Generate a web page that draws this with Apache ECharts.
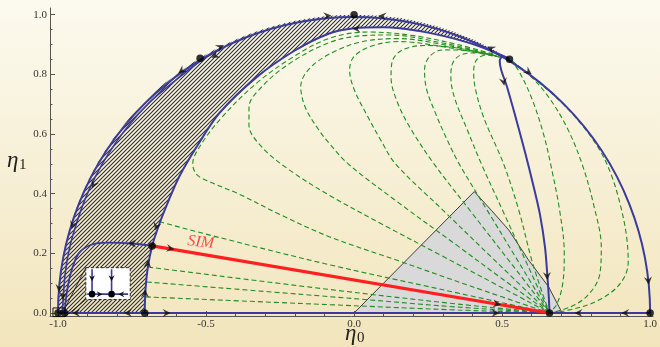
<!DOCTYPE html>
<html><head><meta charset="utf-8">
<script src="https://cdn.jsdelivr.net/npm/echarts@6/dist/echarts.min.js"></script>
<style>html,body{margin:0;padding:0;width:660px;height:347px;overflow:hidden}#c{width:660px;height:347px}</style>
</head><body><div id="c"></div>
<script>
// ---------- tick values ----------
const xMajorTicks = [-1.0, -0.5, 0.0, 0.5, 1.0];
const xMinorTicks = [-1.0,-0.9,-0.8,-0.7,-0.6,-0.5,-0.4,-0.3,-0.2,-0.1,0.0,0.1,0.2,0.3,0.4,0.5,0.6,0.7,0.8,0.9,1.0];
const yMajorTicks = [0.0, 0.2, 0.4, 0.6, 0.8, 1.0];
const yMinorTicks = [0,0.05,0.1,0.15,0.2,0.25,0.3,0.35,0.4,0.45,0.5,0.55,0.6,0.65,0.7,0.75,0.8,0.85,0.9,0.95,1.0];

// ---------- blue curves ----------
const circleRadius = 1;
const innerBoundary = [[-0.707,0],[-0.705,0.07],[-0.697,0.15],[-0.682,0.225],[-0.657,0.30],[-0.625,0.38],[-0.589,0.46],[-0.53,0.56],[-0.455,0.67],[-0.33,0.79],[-0.2,0.88],[-0.084,0.937],[0,0.955],[0.1,0.958],[0.25,0.94],[0.38,0.908],[0.47,0.876],[0.525,0.852]];
const nearCircleCurve = [[-0.44,0.89],[-0.5,0.857],[-0.565,0.81],[-0.697,0.7],[-0.807,0.568],[-0.893,0.418],[-0.951,0.257],[-0.975,0.138],[-0.985,0]];
const leftLoopCurve = [[-0.682,0.225],[-0.75,0.233],[-0.83,0.236],[-0.89,0.228],[-0.93,0.2],[-0.955,0.14],[-0.97,0.07],[-0.978,0]];
const rightBlueCurve = [[0.525,0.852],[0.5,0.858],[0.492,0.845],[0.497,0.815],[0.516,0.76],[0.548,0.648],[0.578,0.537],[0.605,0.43],[0.628,0.33],[0.645,0.22],[0.653,0.124],[0.658,0.05],[0.66,0]];
const axisFlow = [[-1,0],[1,0]];

// ---------- slow invariant manifold ----------
const simLine = [[-0.682,0.225],[0.66,0]];
const simLabelPos = [-0.518,0.237];

// ---------- green trajectories ----------
const gL1 = [[-0.703,0.054],[-0.084,0.028],[0.35,0.01],[0.66,0]];
const gL2 = [[-0.700,0.104],[-0.084,0.055],[0.35,0.02],[0.66,0]];
const gL3 = [[-0.695,0.154],[-0.084,0.079],[0.35,0.03],[0.66,0]];
const gL4 = [[-0.657,0.306],[-0.455,0.253],[-0.084,0.162],[0.3,0.078],[0.66,0]];
const gV1 = [[0.47,0.868],[0.35,0.9],[0.2,0.93],[0.05,0.942],[-0.08,0.922],[-0.2,0.862],[-0.33,0.77],[-0.45,0.652],[-0.52,0.56],[-0.545,0.5],[-0.53,0.463],[-0.488,0.44],[-0.387,0.398],[-0.25,0.33],[-0.084,0.256],[0.15,0.175],[0.4,0.088],[0.66,0]];
const gV2 = [[0.47,0.866],[0.3,0.905],[0.12,0.932],[0,0.927],[-0.1,0.9],[-0.22,0.835],[-0.31,0.76],[-0.355,0.69],[-0.355,0.63],[-0.31,0.555],[-0.219,0.48],[-0.084,0.395],[0.1,0.295],[0.3,0.19],[0.5,0.085],[0.66,0]];
const gV3 = [[0.47,0.864],[0.3,0.9],[0.15,0.92],[0.03,0.91],[-0.07,0.875],[-0.15,0.82],[-0.18,0.76],[-0.165,0.69],[-0.12,0.615],[-0.084,0.569],[-0.02,0.5],[0.15,0.37],[0.35,0.225],[0.5,0.115],[0.66,0]];
const gV4 = [[0.47,0.862],[0.3,0.893],[0.15,0.91],[0.06,0.895],[0.0,0.86],[-0.015,0.815],[0.0,0.75],[0.04,0.67],[0.09,0.58],[0.14,0.5],[0.3,0.345],[0.48,0.172],[0.66,0]];
const gV5 = [[0.48,0.862],[0.35,0.888],[0.24,0.897],[0.16,0.88],[0.128,0.84],[0.125,0.79],[0.145,0.71],[0.19,0.62],[0.27,0.5],[0.4,0.333],[0.53,0.167],[0.66,0]];
const gV6 = [[0.485,0.86],[0.38,0.88],[0.3,0.882],[0.255,0.86],[0.238,0.815],[0.245,0.75],[0.275,0.67],[0.31,0.59],[0.355,0.5],[0.45,0.344],[0.56,0.164],[0.66,0]];
const gV7 = [[0.49,0.858],[0.41,0.872],[0.36,0.865],[0.332,0.835],[0.327,0.79],[0.34,0.72],[0.38,0.62],[0.43,0.5],[0.51,0.326],[0.585,0.163],[0.66,0]];
const gV8 = [[0.495,0.857],[0.45,0.866],[0.415,0.85],[0.404,0.81],[0.41,0.75],[0.44,0.65],[0.505,0.5],[0.556,0.346],[0.6,0.178],[0.635,0.07],[0.66,0]];
const gR1 = [[0.528,0.848],[0.556,0.812],[0.6,0.72],[0.64,0.6],[0.668,0.48],[0.695,0.34],[0.71,0.2],[0.705,0.1],[0.685,0.03],[0.66,0]];
const gR2 = [[0.532,0.846],[0.6,0.79],[0.66,0.72],[0.72,0.62],[0.77,0.5],[0.81,0.36],[0.835,0.22],[0.83,0.13],[0.79,0.06],[0.73,0.02],[0.66,0]];
const gR3 = [[0.536,0.842],[0.62,0.777],[0.7,0.706],[0.77,0.63],[0.83,0.546],[0.87,0.46],[0.9,0.36],[0.92,0.26],[0.926,0.17],[0.9,0.1],[0.83,0.045],[0.74,0.013],[0.66,0]];
const greenCurves = [gL1,gL2,gL3,gL4,gV1,gV2,gV3,gV4,gV5,gV6,gV7,gV8,gR1,gR2,gR3];

// ---------- regions ----------
const grayWedge = [[0,0],[0.406,0.407],[0.465,0.343],[0.522,0.279],[0.589,0.178],[0.657,0.088],[0.703,0]];

// ---------- fixed points and flow arrows ----------
const fixedPoints = [[-1,0],[-0.978,0],[-0.707,0],[-0.682,0.225],[-0.52,0.854],[0,1],[0.525,0.851],[0.66,0],[1,0]];
const arrowX = [-0.939,-0.764,-0.633,0.478,0.758,0.916,-0.62,0.483,-0.668,-0.697,-0.706,-0.75,-0.996,-0.983,-0.95,-0.88,-0.583,-0.47,-0.452,-0.09,0.095,0.008,0.462,0.589,0.505,0.652,0.994];
const arrowY = [0,0,0,0,0,0,0.216,0.03,0.29,0.165,0.066,0.233,0.083,0.057,0.295,0.43,0.812,0.862,0.892,0.996,0.995,0.953,0.887,0.808,0.775,0.124,0.108];
const arrowAngle = [180,180,0,0,180,180,-9.5,-9.5,-108,85,89,180,-95,-93,-107,-116,-144,-152,27,5,175,180,152,-36,-80,-88,-84];

// ---------- inset ----------
const insetBox = [[-0.906,0.152],[-0.756,0.045]];
const zoomBox = [[-1.017,0.017],[-0.976,-0.012]];

const BLUE = '#3b3b9c', GREEN = '#1f8f1f', RED = '#ff1f1f';
const SERIF = '"Liberation Serif","DejaVu Serif",serif';

function makeHatch(){
  const c = document.createElement('canvas'); c.width = 4; c.height = 4;
  const g = c.getContext('2d'); g.strokeStyle = '#2c2c2c'; g.lineWidth = 1.05;
  g.beginPath();
  g.moveTo(0,4); g.lineTo(4,0);
  g.moveTo(-1,1); g.lineTo(1,-1);
  g.moveTo(3,5); g.lineTo(5,3);
  g.stroke();
  return c;
}
const hatchCanvas = makeHatch();

function chevron(cx, cy, ang, s){
  const a = -ang*Math.PI/180, ca = Math.cos(a), sa = Math.sin(a);
  const pts = [[-s/2,-s/2],[s/2,0],[-s/2,s/2],[-s/2+0.35*s,0]];
  return pts.map(p => [cx + p[0]*ca - p[1]*sa, cy + p[0]*sa + p[1]*ca]);
}

function lineSeries(data, color, width, type, z, smooth){
  return {type:'line', data, showSymbol:false, symbol:'none', smooth, silent:true,
    lineStyle:{color, width, type}, z, animation:false, clip:false};
}

const series = [];
// hatched region between unit circle and inner boundary
series.push({type:'custom', z:1, silent:true, data:[[0,0]], animation:false,
  renderItem(params, api){
    const c0 = api.coord([0,0]);
    const r = api.coord([circleRadius,0])[0]-c0[0];
    const st = api.coord([-circleRadius,0]);
    const en = api.coord(innerBoundary[innerBoundary.length-1]);
    let d = 'M'+st[0]+','+st[1]+' A'+r+','+r+' 0 0 1 '+en[0]+','+en[1];
    for (let i=innerBoundary.length-1;i>=0;i--){ const p = api.coord(innerBoundary[i]); d += ' L'+p[0]+','+p[1]; }
    d += ' Z';
    return {type:'path', shape:{pathData:d}, style:{fill:{image:hatchCanvas, repeat:'repeat'}, stroke:null}};
  }});
// gray wedge
series.push({type:'custom', z:1, silent:true, data:[[0,0]], animation:false,
  renderItem(params, api){
    return {type:'polygon', shape:{points: grayWedge.map(p=>api.coord(p))},
      style:{fill:'#d9d9d9', stroke:'#111', lineWidth:0.8}};
  }});
// green dashed trajectories
greenCurves.forEach(c => series.push(lineSeries(c, GREEN, 1.1, [5,3], 2, 0.35)));
// blue curves
series.push({type:'custom', z:3, silent:true, data:[[0,0]], animation:false,
  renderItem(params, api){
    const c0 = api.coord([0,0]);
    const r = api.coord([circleRadius,0])[0]-c0[0];
    return {type:'arc', shape:{cx:c0[0], cy:c0[1], r, startAngle:Math.PI, endAngle:2*Math.PI, clockwise:true},
      style:{stroke:BLUE, lineWidth:2, fill:null}};
  }});
series.push(lineSeries(innerBoundary, BLUE, 2, 'solid', 3, 0.3));
series.push(lineSeries(nearCircleCurve, BLUE, 1.6, 'solid', 3, 0.3));
series.push(lineSeries(leftLoopCurve, BLUE, 1.8, 'solid', 3, 0.3));
series.push(lineSeries(rightBlueCurve, BLUE, 2, 'solid', 3, 0.3));
series.push(lineSeries(axisFlow, BLUE, 2, 'solid', 3, false));
// SIM
series.push(lineSeries(simLine, RED, 3.2, 'solid', 4, false));
series.push({type:'scatter', z:6, silent:true, data:[simLabelPos], symbol:'circle', symbolSize:2,
  itemStyle:{color:'rgba(0,0,0,0)'},
  label:{show:true, position:'inside', formatter:'SIM', color:RED, fontFamily:SERIF, fontStyle:'italic', fontSize:16, rotate:-6}});
// inset
series.push({type:'custom', z:5, silent:true, data:[[0,0]], animation:false,
  renderItem(params, api){
    const a = api.coord(insetBox[0]), b = api.coord(insetBox[1]);
    const za = api.coord(zoomBox[0]), zb = api.coord(zoomBox[1]);
    const w = b[0]-a[0], h = b[1]-a[1];
    const hy = a[1]+0.83*h, d1 = a[0]+0.14*w, d2 = a[0]+0.58*w;
    const ch = [];
    ch.push({type:'line', shape:{x1:zb[0], y1:za[1], x2:a[0], y2:a[1]}, style:{stroke:'#111', lineWidth:0.8}});
    ch.push({type:'line', shape:{x1:zb[0], y1:zb[1], x2:a[0], y2:b[1]}, style:{stroke:'#111', lineWidth:0.8}});
    ch.push({type:'rect', shape:{x:za[0], y:za[1], width:zb[0]-za[0], height:zb[1]-za[1]}, style:{fill:null, stroke:'#111', lineWidth:1}});
    ch.push({type:'rect', shape:{x:a[0], y:a[1], width:w, height:h}, style:{fill:'#ffffff', stroke:'#222', lineWidth:1, lineDash:[3,2]}});
    ch.push({type:'line', shape:{x1:a[0]+0.03*w, y1:hy, x2:a[0]+0.95*w, y2:hy}, style:{stroke:BLUE, lineWidth:1.6}});
    ch.push({type:'line', shape:{x1:d1, y1:a[1]+0.05*h, x2:d1, y2:hy}, style:{stroke:BLUE, lineWidth:1.6}});
    ch.push({type:'line', shape:{x1:d2, y1:a[1]+0.05*h, x2:d2, y2:hy}, style:{stroke:BLUE, lineWidth:1.6}});
    ch.push({type:'circle', shape:{cx:d1, cy:hy, r:3.3}, style:{fill:'#000'}});
    ch.push({type:'circle', shape:{cx:d2, cy:hy, r:3.3}, style:{fill:'#000'}});
    [[d1,a[1]+0.33*h,-90],[d2,a[1]+0.33*h,-90],[a[0]+0.31*w,hy,0],[a[0]+0.8*w,hy,180]].forEach(q=>{
      ch.push({type:'polygon', shape:{points:chevron(q[0],q[1],q[2],6)}, style:{fill:'#111'}});
    });
    return {type:'group', children:ch};
  }});
// fixed points
series.push({type:'scatter', z:7, silent:true, data:fixedPoints, symbol:'circle', symbolSize:7.5, itemStyle:{color:'#000'}});
// arrows
series.push({type:'scatter', z:7, silent:true,
  data: arrowX.map((x,i)=>({value:[x, arrowY[i]], symbolRotate:arrowAngle[i]})),
  symbol:'path://M0,0L10,5L0,10L3.5,5Z', symbolSize:[8,8], itemStyle:{color:'#111'}});

const tickColor = '#555';
const option = {
  animation:false,
  backgroundColor:{type:'linear', x:0, y:0, x2:0, y2:1, colorStops:[{offset:0, color:'#fcfaef'},{offset:1, color:'#f2e5bc'}]},
  grid:{left:50, right:5, top:8, bottom:31},
  xAxis:[
    {type:'value', min:-1.027, max:1.01, splitLine:{show:false},
      axisLine:{onZero:false, lineStyle:{color:tickColor, width:1}},
      axisTick:{inside:true, length:5, customValues:xMajorTicks, lineStyle:{color:tickColor}},
      axisLabel:{customValues:xMajorTicks, formatter:v=>v.toFixed(1), fontFamily:SERIF, fontSize:11, color:'#333', margin:3}},
    {type:'value', min:-1.027, max:1.01, position:'bottom', splitLine:{show:false},
      axisLine:{show:false, onZero:false},
      axisTick:{inside:true, length:2.5, customValues:xMinorTicks, lineStyle:{color:tickColor}},
      axisLabel:{show:false}}
  ],
  yAxis:[
    {type:'value', min:-0.01, max:1.0225, splitLine:{show:false},
      axisLine:{onZero:false, lineStyle:{color:tickColor, width:1}},
      axisTick:{inside:true, length:5, customValues:yMajorTicks, lineStyle:{color:tickColor}},
      axisLabel:{customValues:yMajorTicks, formatter:v=>v.toFixed(1), fontFamily:SERIF, fontSize:11, color:'#333', margin:3}},
    {type:'value', min:-0.01, max:1.0225, position:'left', splitLine:{show:false},
      axisLine:{show:false, onZero:false},
      axisTick:{inside:true, length:2.5, customValues:yMinorTicks, lineStyle:{color:tickColor}},
      axisLabel:{show:false}}
  ],
  graphic:[
    {type:'text', left:7, top:149, style:{text:'η', font:'italic 23px '+SERIF, fill:'#222'}},
    {type:'text', left:19, top:158, style:{text:'1', font:'15px '+SERIF, fill:'#222'}},
    {type:'text', left:345, top:322, style:{text:'η', font:'italic 23px '+SERIF, fill:'#222'}},
    {type:'text', left:357, top:331, style:{text:'0', font:'15px '+SERIF, fill:'#222'}}
  ],
  series
};
const chart = echarts.init(document.getElementById('c'), null, {renderer:'canvas', width:660, height:347});
chart.setOption(option);
</script>
</body></html>
